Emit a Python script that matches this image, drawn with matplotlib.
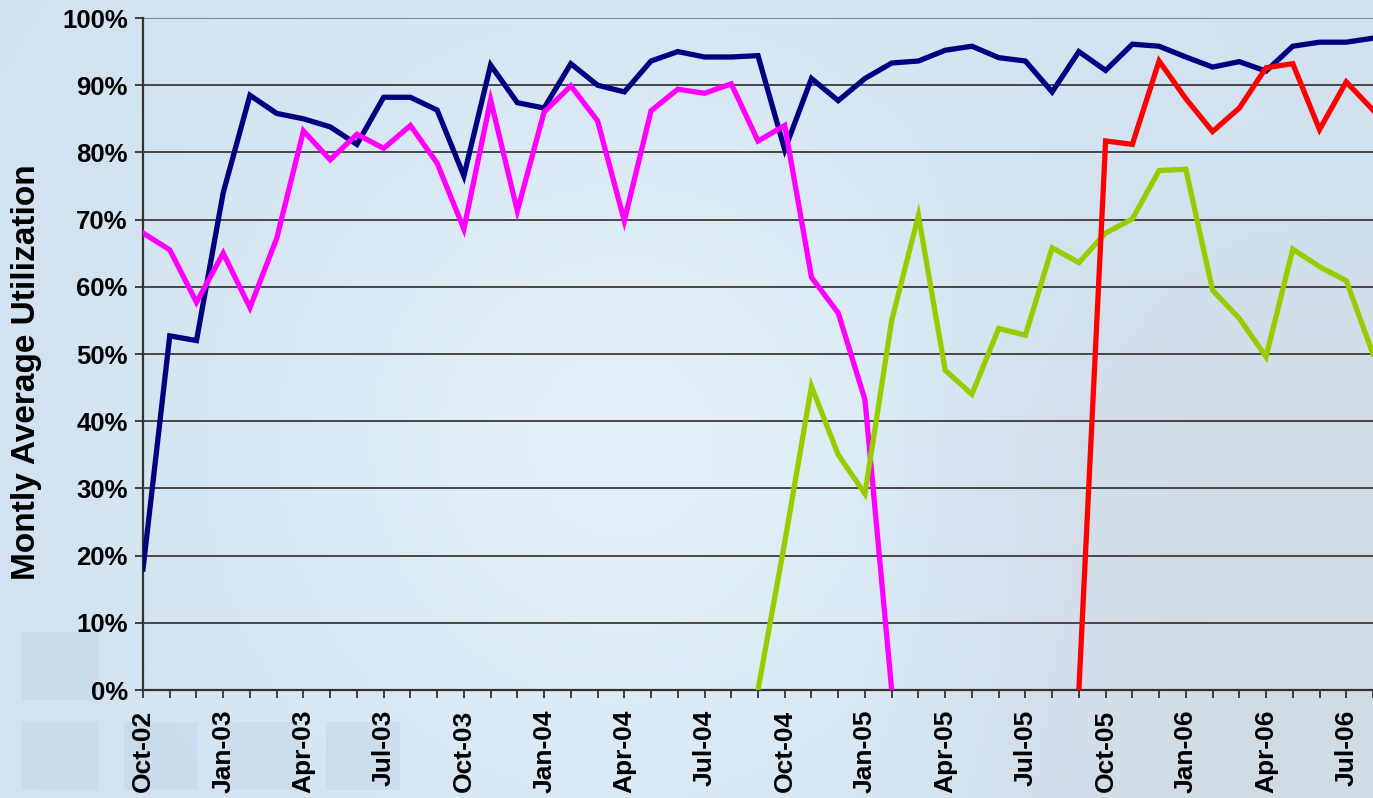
import numpy as np
import pandas as pd
from matplotlib import pyplot as plt
from matplotlib.patches import Rectangle

nan = np.nan

months = pd.date_range("2002-10-01", periods=47, freq="MS")
month_labels = [m.strftime("%b-%y") for m in months]

navy = [18, 52.7, 52, 74, 88.5, 85.8, 85, 83.8, 81.2, 88.2, 88.2, 86.3,
        76.5, 93, 87.4, 86.6, 93.2, 90, 89, 93.6, 95, 94.2, 94.2, 94.4,
        80.4, 91, 87.7, 91, 93.3, 93.6, 95.2, 95.8, 94.1, 93.6, 89, 95,
        92.2, 96.1, 95.8, 94.2, 92.7, 93.5, 92.1, 95.8, 96.4, 96.4, 97]

magenta = [68, 65.5, 57.7, 65, 56.9, 67.2, 83.2, 78.9, 82.7, 80.6, 84, 78.4,
           68.6, 87.8, 71.3, 86, 89.9, 84.7, 69.8, 86.2, 89.4, 88.8, 90.2, 81.7,
           84, 61.4, 56.1, 43.2, 0] + [nan] * 18

green = [nan] * 23 + [0, 22, 45.2, 35, 29.2, 55, 70.6, 47.6, 44, 53.8, 52.8,
                      65.8, 63.6, 68, 70.1, 77.3, 77.5, 59.5, 55.3, 49.6,
                      65.6, 63, 60.9, 50]

red = [nan] * 35 + [0, 81.7, 81.2, 93.6, 88, 83.1, 86.6, 92.6, 93.2, 83.4,
                    90.5, 86.3]

series = [
    (navy, "#000080"),
    (magenta, "#ff00ff"),
    (green, "#99cc00"),
    (red, "#ff0000"),
]

plt.rcParams["font.family"] = ["Liberation Sans", "DejaVu Sans"]

fig = plt.figure(figsize=(13.73, 7.98), dpi=100)

# sky-like background
bg = fig.add_axes([0, 0, 1, 1], zorder=-2)
h, w = 80, 140
yy, xx = np.mgrid[0:h, 0:w]
xn, yn = xx / w, yy / h
base = np.array([0.82, 0.885, 0.94])
light = np.array([0.89, 0.94, 0.975])
grey = np.array([0.82, 0.86, 0.895])
t_light = np.exp(-((xn - 0.45) ** 2 / 0.08 + (yn - 0.55) ** 2 / 0.25))
t_grey = np.clip((xn - 0.62) * 3.5, 0, 1) * np.clip((yn - 0.15) * 2.5, 0, 1)
img = base[None, None, :] * np.ones((h, w, 1))
img = img + (light - base) * t_light[..., None]
img = img * (1 - t_grey[..., None]) + grey * t_grey[..., None]
bg.imshow(np.clip(img, 0, 1), aspect="auto", extent=[0, 1, 0, 1],
          interpolation="bicubic")
bg.set_axis_off()

for (x0, y0, x1, y1) in [(22, 632, 98, 700), (22, 722, 98, 790),
                         (124, 722, 198, 790), (228, 722, 300, 790),
                         (326, 722, 400, 790)]:
    fig.patches.append(Rectangle((x0 / 1373, 1 - y1 / 798),
                                 (x1 - x0) / 1373, (y1 - y0) / 798,
                                 transform=fig.transFigure,
                                 color="#b9cfe6", alpha=0.35, lw=0, zorder=-1))

ax = fig.add_axes([143 / 1373, 1 - 690 / 798, 1 - 143 / 1373, 672 / 798])
ax.set_facecolor("none")

x = np.arange(len(months))
for vals, col in series:
    ax.plot(x, vals, color=col, lw=3.8, solid_joinstyle="miter", zorder=3)

ax.set_xlim(0, 45.72)
ax.set_ylim(0, 100)

ax.set_yticks(np.arange(0, 101, 10))
ax.set_yticklabels([f"{v}%" for v in range(0, 101, 10)],
                   fontsize=18.5, fontweight="bold")
ax.yaxis.grid(True, color="#3a3a3a", lw=1.3, zorder=1)
ax.set_axisbelow(True)
ax.get_ygridlines()[-1].set_color("#7a7a7a")

ax.set_xticks(x, minor=True)
ax.set_xticks(x[::3])
ax.set_xticklabels(month_labels[::3], rotation=90, fontsize=19,
                   fontweight="bold")
ax.tick_params(axis="x", which="both", direction="out", length=6,
               width=1.3, color="#333333", pad=8)
ax.tick_params(axis="y", direction="out", length=6, width=1.3,
               color="#333333", pad=5)

for s in ["top", "right"]:
    ax.spines[s].set_visible(False)
ax.spines["left"].set_color("#333333")
ax.spines["bottom"].set_color("#333333")
ax.spines["left"].set_linewidth(1.6)
ax.spines["bottom"].set_linewidth(1.6)

fig.text(27 / 1373, 1 - 372 / 798, "Montly Average Utilization",
         rotation=90, fontsize=24, fontweight="bold",
         ha="center", va="center")

fig.savefig("out.png", dpi=100)
